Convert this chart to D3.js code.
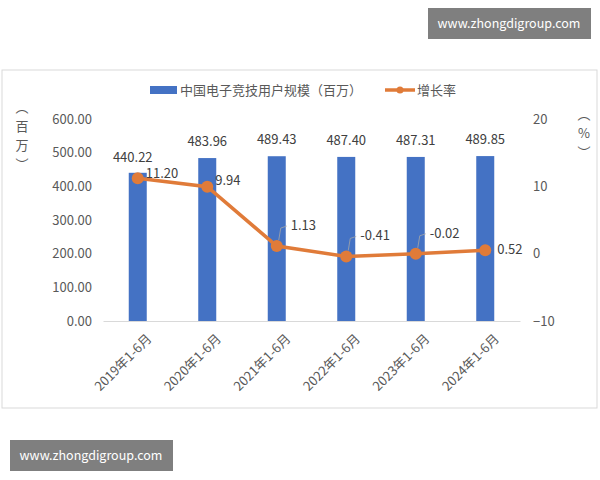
<!DOCTYPE html><html><head><meta charset="utf-8"><script src="https://cdn.jsdelivr.net/npm/d3@7"></script>
<style>body{margin:0;background:#fff}text{font-family:"Noto Sans CJK SC","Open Sans",sans-serif}</style></head><body>
<svg id="c" width="600" height="480"></svg>
<script>
const categories=["2019年1-6月","2020年1-6月","2021年1-6月","2022年1-6月","2023年1-6月","2024年1-6月"];
const users=[440.22,483.96,489.43,487.40,487.31,489.85];
const growth=[11.20,9.94,1.13,-0.41,-0.02,0.52];
const leftTicks=[0,100,200,300,400,500,600];
const rightTicks=[-10,0,10,20];
const svg=d3.select("#c");
const blue="#4472C4",orange="#E07B39",grey="#595959";
svg.append("rect").attr("x",2).attr("y",70).attr("width",595).attr("height",338).attr("fill","#fff").attr("stroke","#d9d9d9");
const x=d3.scaleBand().domain(categories).range([103,520]);
const yL=d3.scaleLinear().domain([0,600]).range([321,119]);
const yR=d3.scaleLinear().domain([-10,20]).range([321,119]);
const gL=svg.append("g").attr("transform","translate(95,0)").call(d3.axisLeft(yL).tickValues(leftTicks).tickFormat(d3.format(".2f")).tickSize(0));
const gR=svg.append("g").attr("transform","translate(530,0)").call(d3.axisRight(yR).tickValues(rightTicks).tickSize(0));
[gL,gR].forEach(g=>{g.select(".domain").remove();g.selectAll("text").attr("fill",grey).attr("font-size",13);});
const gx=svg.append("g").attr("transform","translate(0,321)").call(d3.axisBottom(x).tickSize(0).tickFormat(d=>d));
gx.select(".domain").attr("stroke","#d9d9d9");
gx.selectAll("text").attr("fill",grey).attr("font-size",13).attr("text-anchor","end").attr("transform","translate(6,10) rotate(-45)");
svg.selectAll(".bar").data(users).join("rect").attr("fill",blue).attr("x",(d,i)=>x(categories[i])+x.bandwidth()/2-9).attr("width",18).attr("y",d=>yL(d)).attr("height",d=>321-yL(d));
svg.selectAll(".bl").data(users).join("text").attr("x",(d,i)=>x(categories[i])+x.bandwidth()/2-(i==0?5:0)).attr("y",(d,i)=>yL(d)-(i==0?11:12)).attr("text-anchor","middle").attr("font-size",13).attr("fill","#404040").text(d=>d.toFixed(2));
const cx=i=>x(categories[i])+x.bandwidth()/2;
svg.append("path").datum(growth).attr("fill","none").attr("stroke",orange).attr("stroke-width",3.5).attr("d",d3.line().x((d,i)=>cx(i)).y(d=>yR(d)));
svg.selectAll(".pt").data(growth).join("circle").attr("cx",(d,i)=>cx(i)).attr("cy",d=>yR(d)).attr("r",6).attr("fill",orange);
const off=[[8,0],[8,-2],[14,-16],[14,-16],[14,-16],[12,4]];
svg.selectAll(".gl").data(growth).join("text").attr("x",(d,i)=>cx(i)+off[i][0]).attr("y",(d,i)=>yR(d)+off[i][1]).attr("font-size",13).attr("fill","#404040").text(d=>d.toFixed(2));
[2,3,4].forEach(i=>svg.append("path").attr("d",`M${cx(i)+2},${yR(growth[i])-6}L${cx(i)+4},${yR(growth[i])-18}L${cx(i)+10},${yR(growth[i])-20}`).attr("fill","none").attr("stroke","#a6a6a6").attr("stroke-width",0.8));
svg.append("rect").attr("x",150).attr("y",86).attr("width",27).attr("height",8).attr("fill",blue);
svg.append("text").attr("x",180).attr("y",95).attr("font-size",13).attr("fill",grey).text("中国电子竞技用户规模（百万）");
svg.append("line").attr("x1",385).attr("x2",415).attr("y1",90).attr("y2",90).attr("stroke",orange).attr("stroke-width",3.5);
svg.append("circle").attr("cx",400).attr("cy",90).attr("r",3.5).attr("fill",orange);
svg.append("text").attr("x",417).attr("y",95).attr("font-size",13).attr("fill",grey).text("增长率");
["︵","百","万","︶"].forEach((c,i)=>svg.append("text").attr("x",22).attr("y",112+i*19).attr("text-anchor","middle").attr("font-size",13).attr("fill",grey).text(c));
["︵","%","︶"].forEach((c,i)=>svg.append("text").attr("x",584).attr("y",119+i*19).attr("text-anchor","middle").attr("font-size",13).attr("fill",grey).text(c));
[[428,8],[10,440]].forEach(([bx,by])=>{svg.append("rect").attr("x",bx).attr("y",by).attr("width",163).attr("height",31).attr("fill","#7f7f7f");
svg.append("text").attr("x",bx+81).attr("y",by+20).attr("text-anchor","middle").attr("font-size",12.5).attr("fill","#fff").text("www.zhongdigroup.com");});
</script></body></html>
